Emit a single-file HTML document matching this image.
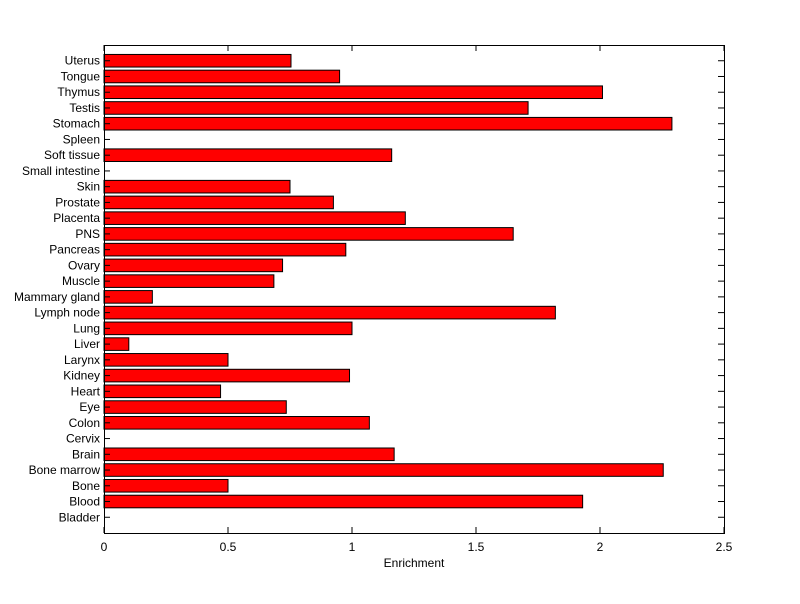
<!DOCTYPE html>
<html><head><meta charset="utf-8"><style>
body{margin:0;background:#fff;}
svg text{font-family:"Liberation Sans",Arial,sans-serif;font-size:12px;fill:#000;}
</style></head><body>
<svg id="chart" width="800" height="599"></svg>
<script>
const categories=["Bladder","Blood","Bone","Bone marrow","Brain","Cervix","Colon","Eye","Heart","Kidney","Larynx","Liver","Lung","Lymph node","Mammary gland","Muscle","Ovary","Pancreas","PNS","Placenta","Prostate","Skin","Small intestine","Soft tissue","Spleen","Stomach","Testis","Thymus","Tongue","Uterus"];
const values=[0,1.93,0.5,2.255,1.17,0,1.07,0.735,0.47,0.99,0.5,0.1,1.0,1.82,0.195,0.685,0.72,0.975,1.65,1.215,0.925,0.75,0,1.16,0,2.29,1.71,2.01,0.95,0.754];
const xTicks=[0,0.5,1,1.5,2,2.5];
const xTickLabels=["0","0.5","1","1.5","2","2.5"];
const NS="http://www.w3.org/2000/svg";
const svg=document.getElementById('chart');
const L=104,R=724,T=45,B=533;
const xMax=2.5,yMax=categories.length+1;
const xs=v=>L+v/xMax*(R-L);
const ys=i=>B-(i+1)/yMax*(B-T);
const bh=0.8*(B-T)/yMax;
function mk(t,a){const e=document.createElementNS(NS,t);for(const k in a)e.setAttribute(k,a[k]);svg.appendChild(e);return e;}
categories.forEach((c,i)=>{
  const y=ys(i);
  if(values[i]>0){
    const r=mk('rect',{x:xs(0),y:y-bh/2,width:xs(values[i])-xs(0),height:bh,fill:'#ff0000',stroke:'#000','stroke-width':1});
    
    
  }
  const t1=mk('line',{x1:L,x2:L+6,y1:y,y2:y,stroke:'#000'});
  
  
  const t2=mk('line',{x1:R-6,x2:R,y1:y,y2:y,stroke:'#000'});
  
  
  const lb=mk('text',{x:L-4,y:y+4,'text-anchor':'end'});
  lb.textContent=c;
  
  
});
xTicks.forEach((v,i)=>{
  const x=xs(v);
  const a=mk('line',{x1:x,x2:x,y1:B,y2:B-6,stroke:'#000'});
  
  
  const b=mk('line',{x1:x,x2:x,y1:T,y2:T+6,stroke:'#000'});
  
  
  const lb=mk('text',{x:x,y:B+18,'text-anchor':'middle'});
  lb.textContent=xTickLabels[i];
  
  
});
const fr=mk('rect',{x:L+0.5,y:T+0.5,width:R-L,height:B-T,fill:'none',stroke:'#000'});


const xt=mk('text',{x:(L+R)/2,y:567,'text-anchor':'middle'});
xt.textContent='Enrichment';


</script>
</body></html>
